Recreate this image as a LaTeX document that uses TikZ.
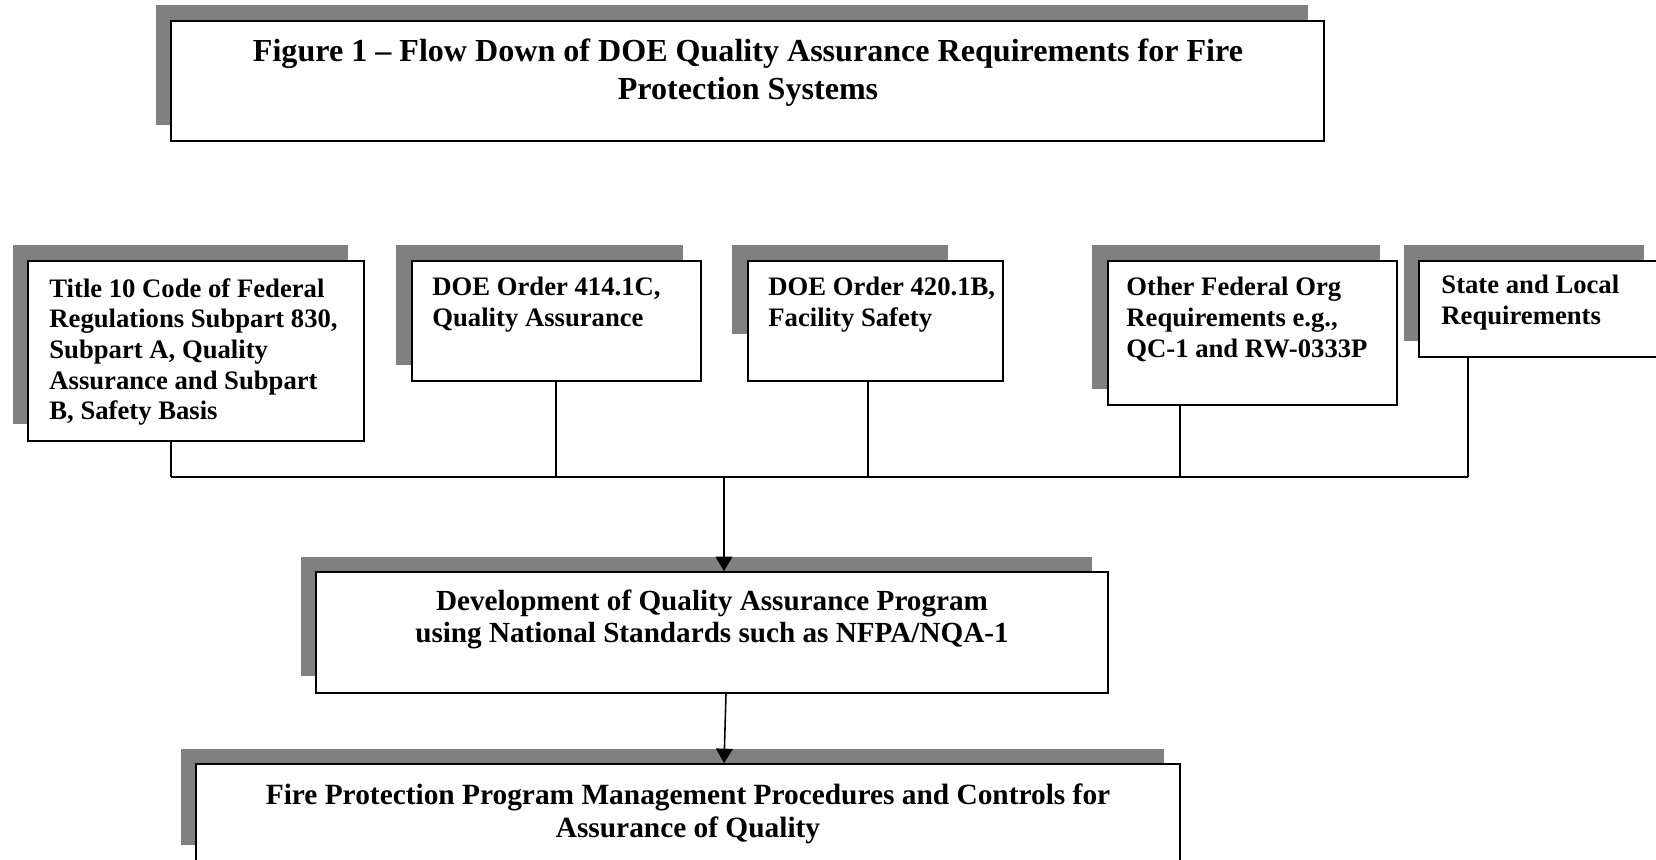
\documentclass[tikz,border=0pt]{standalone}
\usepackage{fontspec}
\setmainfont{Liberation Serif}
\usetikzlibrary{arrows.meta,calc,fit}
\definecolor{shadowgray}{HTML}{808080}
\begin{document}
\begin{tikzpicture}[x=0.48pt,y=-0.48pt,
  shade/.style={fill=shadowgray,draw=none},
  box/.style={draw=black,fill=white,line width=0.75pt,rectangle,inner sep=0pt},
  smalltxt/.style={font=\bfseries\fontsize{12.8}{14.7}\selectfont,align=left,inner sep=0pt,anchor=north west},
  bigtxt/.style={font=\bfseries\fontsize{14.1}{16.2}\selectfont,align=center,inner sep=0pt,anchor=north},
  conn/.style={draw=black,line width=0.75pt},
  arr/.style={conn,-{Triangle[length=7pt,width=8pt]}}
]
\clip (0,0) rectangle (1656,859);
\fill[white] (0,0) rectangle (1656,859);

% shadows
\fill[shade] (156,5) rectangle (1308,125);
\fill[shade] (13,245) rectangle (348,424);
\fill[shade] (396,245) rectangle (683,365);
\fill[shade] (732,245) rectangle (948,334);
\fill[shade] (1092,245) rectangle (1380,389);
\fill[shade] (1404,245) rectangle (1644,341);
\fill[shade] (301,557) rectangle (1092,676);
\fill[shade] (181,749) rectangle (1164,845);

% boxes
\node[box,fit={(171,21) (1324,141)}] (title) {};
\node[box,fit={(28,261) (364,441)}] (b1) {};
\node[box,fit={(412,261) (701,381)}] (b2) {};
\node[box,fit={(748,261) (1003,381)}] (b3) {};
\node[box,fit={(1108,261) (1397,405)}] (b4) {};
\node[box,fit={(1419,261) (1670,357)}] (b5) {};
\node[box,fit={(316,572) (1108,693)}] (dev) {};
\node[box,fit={(196,764) (1180,880)}] (fire) {};

% texts
\node[bigtxt,font=\bfseries\fontsize{15.4}{18.7}\selectfont] (t0) at (748,38)
  {Figure 1 – Flow Down of DOE Quality Assurance Requirements for Fire\\Protection Systems};
\node[smalltxt] (t1) at (49,278) {Title 10 Code of Federal\\Regulations Subpart 830,\\Subpart A, Quality\\Assurance and Subpart\\B, Safety Basis};
\node[smalltxt] (t2) at (432,277) {DOE Order 414.1C,\\Quality Assurance};
\node[smalltxt] (t3) at (768,277) {DOE Order 420.1B,\\Facility Safety};
\node[smalltxt] (t4) at (1126,277) {Other Federal Org\\Requirements e.g.,\\QC-1 and RW-0333P};
\node[smalltxt] (t5) at (1441,275) {State and Local\\Requirements};
\node[bigtxt,font=\bfseries\fontsize{14}{15.2}\selectfont] (t6) at (712,590) {Development of Quality Assurance Program\\using National Standards such as NFPA/NQA-1};
\node[bigtxt] (t7) at (688,783) {Fire Protection Program Management Procedures and Controls for\\Assurance of Quality};

% connectors
\coordinate (c1) at (171,477);
\coordinate (c2) at (556,477);
\coordinate (c3) at (868,477);
\coordinate (c4) at (1180,477);
\coordinate (c5) at (1468,477);
\coordinate (bus) at (724,477);
\draw[conn] (b1.south -| c1) -- (c1);
\draw[conn] (b2.south -| c2) -- (c2);
\draw[conn] (b3.south -| c3) -- (c3);
\draw[conn] (b4.south -| c4) -- (c4);
\draw[conn] (b5.south -| c5) -- (c5);
\draw[conn] (c1) -- (c5);
\draw[arr] (bus) -- (dev.north -| bus);
\draw[arr] ($(dev.south)+(14,0)$) -- ($(fire.north)+(36,0)$);
\end{tikzpicture}
\end{document}
